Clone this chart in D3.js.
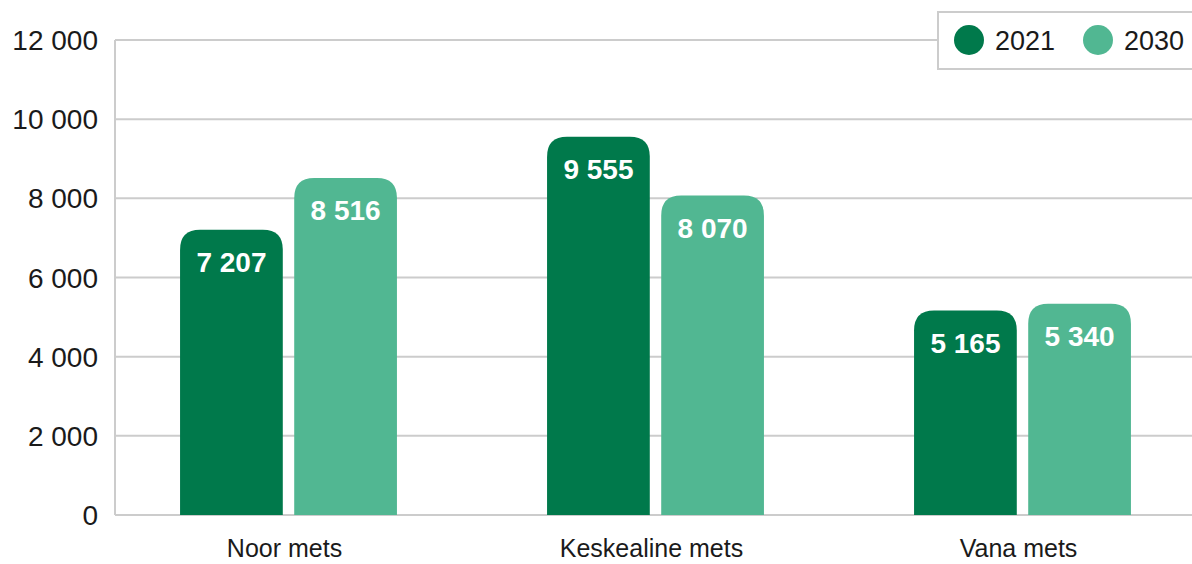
<!DOCTYPE html>
<html>
<head>
<meta charset="utf-8">
<script src="https://cdn.jsdelivr.net/npm/d3@7"></script>
<style>
  body { margin: 0; background: #fff; }
  svg { display: block; font-family: 'Liberation Sans', Arial, sans-serif; }
</style>
</head>
<body>
<svg width="1192" height="564"></svg>
<script>
// **** Data ****
var categories = ["Noor mets", "Keskealine mets", "Vana mets"];
var series = ["2021", "2030"];
var values2021 = [7207, 9555, 5165];
var values2030 = [8516, 8070, 5340];
var yTicks = [0, 2000, 4000, 6000, 8000, 10000, 12000];
var colors = ["#00794b", "#51b792"];

var data = categories.map(function(c, i) {
    return { cat: c, vals: [values2021[i], values2030[i]] };
});

// **** Scales ****
var svg = d3.select("svg");

var xScale = d3.scaleBand()
    .domain(categories)
    .range([105, 1206])
    .paddingInner(0.409)
    .paddingOuter(0.2045);

var xInner = d3.scaleBand()
    .domain(series)
    .range([0, xScale.bandwidth()])
    .paddingInner(0.1);

var yScale = d3.scaleLinear()
    .domain([0, 12000]).range([515, 40]);

var fmt = function(v) { return d3.format(",")(v).replace(/,/g, " "); };

// **** Grid and axis ****
svg.append("g")
    .selectAll("line")
    .data(yTicks)
    .enter()
    .append("line")
    .attr("x1", 115)
    .attr("x2", 1192)
    .attr("y1", function(d) { return yScale(d); })
    .attr("y2", function(d) { return yScale(d); })
    .style("stroke", "#cccccc")
    .style("stroke-width", 2);

svg.append("line")
    .attr("x1", 115).attr("x2", 115)
    .attr("y1", yScale(12000)).attr("y2", yScale(0))
    .style("stroke", "#cccccc")
    .style("stroke-width", 2);

svg.append("g")
    .selectAll("text")
    .data(yTicks)
    .enter()
    .append("text")
    .attr("x", 98)
    .attr("y", function(d) { return yScale(d); })
    .attr("dy", "0.36em")
    .attr("text-anchor", "end")
    .style("font-size", "28px")
    .style("fill", "#1a1a1a")
    .text(function(d) { return fmt(d); });

// **** Bars ****
function topRounded(x, y, w, h, r) {
    r = Math.min(r, h, w / 2);
    return "M" + x + "," + (y + h) +
        "V" + (y + r) +
        "Q" + x + "," + y + " " + (x + r) + "," + y +
        "H" + (x + w - r) +
        "Q" + (x + w) + "," + y + " " + (x + w) + "," + (y + r) +
        "V" + (y + h) + "Z";
}

var groups = svg.selectAll(".grp")
    .data(data)
    .enter()
    .append("g")
    .attr("class", "grp")
    .attr("transform", function(d) { return "translate(" + xScale(d.cat) + ",0)"; });

groups.selectAll("path")
    .data(function(d) { return d.vals.map(function(v, i) { return { s: series[i], v: v, i: i }; }); })
    .enter()
    .append("path")
    .attr("d", function(d) {
        return topRounded(xInner(d.s), yScale(d.v), xInner.bandwidth(), yScale(0) - yScale(d.v), 20);
    })
    .style("fill", function(d) { return colors[d.i]; });

groups.selectAll("text")
    .data(function(d) { return d.vals.map(function(v, i) { return { s: series[i], v: v, i: i }; }); })
    .enter()
    .append("text")
    .attr("x", function(d) { return xInner(d.s) + xInner.bandwidth() / 2; })
    .attr("y", function(d) { return yScale(d.v) + 42; })
    .attr("text-anchor", "middle")
    .style("font-size", "28px")
    .style("font-weight", "bold")
    .style("fill", "#ffffff")
    .text(function(d) { return fmt(d.v); });

// **** Category labels ****
svg.append("g")
    .selectAll("text")
    .data(categories)
    .enter()
    .append("text")
    .attr("x", function(d) { return xScale(d) + xScale.bandwidth() / 2 - 4; })
    .attr("y", 557)
    .attr("text-anchor", "middle")
    .style("font-size", "25px")
    .style("fill", "#1a1a1a")
    .text(function(d) { return d; });

// **** Legend ****
var legend = svg.append("g");
legend.append("rect")
    .attr("x", 938).attr("y", 12)
    .attr("width", 270).attr("height", 57)
    .style("fill", "#fff")
    .style("stroke", "#cccccc")
    .style("stroke-width", 2);

var legendX = [969, 1098];
series.forEach(function(s, i) {
    legend.append("circle")
        .attr("cx", legendX[i]).attr("cy", 40).attr("r", 15)
        .style("fill", colors[i]);
    legend.append("text")
        .attr("x", legendX[i] + 26).attr("y", 50)
        .style("font-size", "27px")
        .style("fill", "#1a1a1a")
        .text(s);
});
</script>
</body>
</html>
